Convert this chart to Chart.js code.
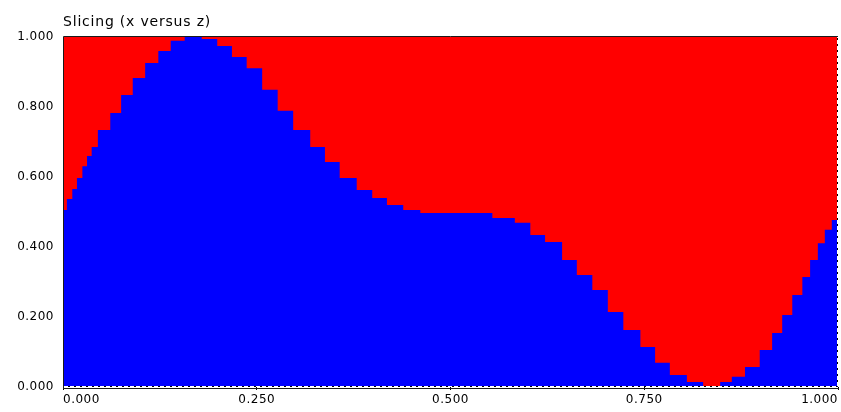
<!DOCTYPE html>
<html><head><meta charset="utf-8">
<script src="https://cdn.jsdelivr.net/npm/chart.js@4/dist/chart.umd.min.js"></script>
<style>html,body{margin:0;padding:0;background:#fff;overflow:hidden}</style>
</head><body>
<canvas id="c" width="841" height="412"></canvas>
<script>
const chartTitle = 'Slicing (x versus z)';
// step start positions along x, and the z level held from that x to the next
const xStarts = [0.000,0.005,0.012,0.018,0.025,0.031,0.037,0.045,0.061,0.075,0.090,0.106,0.123,0.139,0.157,0.179,0.199,0.218,0.237,0.257,0.277,0.297,0.319,0.338,0.357,0.379,0.399,0.418,0.439,0.461,0.554,0.583,0.603,0.622,0.644,0.663,0.683,0.703,0.723,0.745,0.764,0.783,0.805,0.826,0.848,0.863,0.880,0.899,0.915,0.928,0.941,0.954,0.964,0.974,0.983,0.992,0.999,1.000];
const zValues = [0.506,0.537,0.566,0.597,0.631,0.660,0.686,0.734,0.783,0.834,0.883,0.926,0.960,0.989,1.000,0.994,0.974,0.943,0.911,0.849,0.789,0.734,0.686,0.643,0.597,0.563,0.540,0.520,0.506,0.497,0.483,0.469,0.434,0.414,0.363,0.320,0.277,0.214,0.163,0.114,0.069,0.034,0.014,0.003,0.014,0.029,0.057,0.106,0.154,0.206,0.263,0.314,0.363,0.411,0.449,0.477,0.506,0.506];
const xTickValues = [0, 0.25, 0.5, 0.75, 1];
const yTickValues = [0, 0.2, 0.4, 0.6, 0.8, 1];

const points = xStarts.map((x, i) => ({x: x, y: zValues[i]}));
const FONT = 'DejaVu Sans';

const spacingPlugin = {
  id: 'spacing',
  beforeLayout(chart) { chart.ctx.letterSpacing = '0.5px'; },
  beforeDraw(chart) { chart.ctx.letterSpacing = '0.5px'; }
};

const framePlugin = {
  id: 'frame',
  beforeDatasetsDraw(chart) {
    const {ctx, chartArea: a} = chart;
    ctx.save();
    ctx.fillStyle = '#ff0000';
    ctx.fillRect(a.left, a.top, a.right - a.left, a.bottom - a.top);
    ctx.restore();
  },
  afterDatasetsDraw(chart) {
    const {ctx, chartArea: a} = chart;
    ctx.save();
    ctx.lineWidth = 1;
    ctx.strokeStyle = '#1a1a1a';
    ctx.beginPath();
    ctx.moveTo(a.left + 0.5, a.bottom + 2);
    ctx.lineTo(a.left + 0.5, a.top - 0.5);
    ctx.lineTo(a.right, a.top - 0.5);
    ctx.stroke();
    ctx.beginPath();
    ctx.moveTo(a.left, a.bottom + 1.5);
    ctx.lineTo(a.right + 1, a.bottom + 1.5);
    ctx.stroke();
    ctx.strokeStyle = '#000';
    ctx.beginPath();
    ctx.moveTo(a.left + 1, a.bottom - 0.5);
    ctx.lineTo(a.right - 0.5, a.bottom - 0.5);
    ctx.lineTo(a.right - 0.5, a.top);
    ctx.stroke();
    ctx.strokeStyle = '#fff';
    ctx.setLineDash([4, 2]);
    ctx.stroke();
    ctx.restore();
    ctx.save();
    ctx.letterSpacing = '0.8px';
    ctx.font = '14px "' + FONT + '"';
    ctx.fillStyle = '#000';
    ctx.textBaseline = 'alphabetic';
    ctx.textAlign = 'left';
    ctx.fillText(chartTitle, a.left, 25.5);
    ctx.restore();
  }
};

new Chart(document.getElementById('c'), {
  type: 'line',
  data: {
    datasets: [{
      data: points,
      stepped: 'before',
      fill: 'origin',
      backgroundColor: '#0000ff',
      borderWidth: 0,
      borderColor: 'rgba(0,0,0,0)',
      pointRadius: 0
    }]
  },
  options: {
    responsive: false,
    devicePixelRatio: 1,
    animation: false,
    layout: {padding: {top: 37, right: 3, left: 0, bottom: 0}},
    plugins: {legend: {display: false}, tooltip: {enabled: false}, title: {display: false}},
    scales: {
      x: {
        type: 'linear', min: 0, max: 1,
        afterBuildTicks: s => { s.ticks = xTickValues.map(v => ({value: v})); },
        afterFit: s => { s.height = 25; },
        border: {display: false},
        grid: {display: true, drawOnChartArea: false, drawTicks: true, tickLength: 3, color: '#000'},
        ticks: {align: 'inner', autoSkip: false, maxRotation: 0, padding: 3, color: '#000',
          font: {family: FONT, size: 12}, callback: v => Number(v).toFixed(3)}
      },
      y: {
        type: 'linear', min: 0, max: 1,
        afterBuildTicks: s => { s.ticks = yTickValues.map(v => ({value: v})); },
        afterFit: s => { s.width = 63; },
        border: {display: false},
        grid: {display: false, drawTicks: false, tickLength: 0},
        ticks: {padding: 9, color: '#000', font: {family: FONT, size: 12},
          callback: v => Number(v).toFixed(3)}
      }
    }
  },
  plugins: [spacingPlugin, framePlugin]
});
</script>
</body></html>
